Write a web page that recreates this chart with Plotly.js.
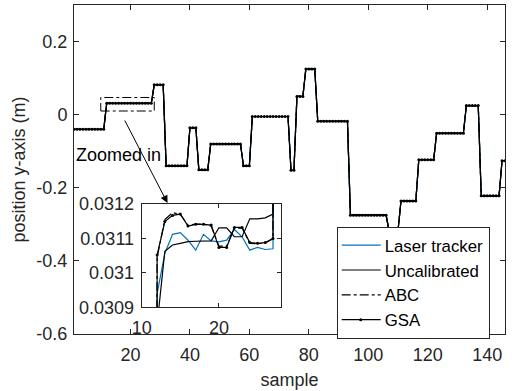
<!DOCTYPE html>
<html>
<head>
<meta charset="utf-8">
<script src="https://cdn.plot.ly/plotly-3.0.1.min.js"></script>
<style>html,body{margin:0;padding:0;background:#fff;}#chart{width:512px;height:391px;}</style>
</head>
<body>
<div id="chart"></div>
<script>
// sample index 1..146
const sample = [];
for (let i = 1; i <= 146; i++) sample.push(i);

// main trajectory (position y-axis, m), samples 1..146
const mainPath = [
  -0.04,-0.04,-0.04,-0.04,-0.04,-0.04,-0.04,-0.04,-0.04,-0.04,-0.04,
  0.031,0.031,0.031,0.031,0.031,0.031,0.031,0.031,0.031,0.031,0.031,0.031,0.031,0.031,0.031,0.031,
  0.082,0.082,0.082,0.082,
  -0.14,-0.14,-0.14,-0.14,-0.14,-0.14,-0.14,-0.14,
  -0.036,-0.036,-0.036,
  -0.151,-0.151,-0.151,-0.151,
  -0.08,-0.08,-0.08,-0.08,-0.08,-0.08,-0.08,-0.08,-0.08,-0.08,-0.08,
  -0.14,-0.14,-0.14,
  -0.005,-0.005,-0.005,-0.005,-0.005,-0.005,-0.005,-0.005,-0.005,-0.005,-0.005,-0.005,-0.005,
  -0.152,-0.152,
  0.05,0.05,0.05,
  0.125,0.125,0.125,0.125,
  -0.018,-0.018,-0.018,-0.018,-0.018,-0.018,-0.018,-0.018,-0.018,-0.018,-0.018,
  -0.275,-0.275,-0.275,-0.275,-0.275,-0.275,-0.275,-0.275,-0.275,-0.275,-0.275,-0.275,-0.275,
  -0.318,-0.318,-0.318,-0.318,
  -0.236,-0.236,-0.236,-0.236,-0.236,-0.236,
  -0.123,-0.123,-0.123,-0.123,-0.123,-0.123,
  -0.051,-0.051,-0.051,-0.051,-0.051,-0.051,-0.051,-0.051,-0.051,-0.051,
  0.025,0.025,0.025,0.025,0.025,
  -0.222,-0.222,-0.222,-0.222,-0.222,-0.222,-0.222,
  -0.126,-0.126
];

// zoomed window (samples 12..27), values per method
const insetSamples = [12,13,14,15,16,17,18,19,20,21,22,23,24,25,26,27];
const laserInset = [0.03094,0.031057,0.031112,0.031117,0.031095,0.031066,0.031112,0.031093,0.03109,0.031095,0.031126,0.031105,0.031066,0.031074,0.031068,0.03107];
const uncalInset = [0.03085,0.031063,0.031081,0.031086,0.031091,0.031092,0.031093,0.031093,0.031131,0.031131,0.031105,0.031105,0.031157,0.031157,0.03116,0.031171];
const abcInset   = [0.031045,0.031155,0.031175,0.03117,0.031138,0.031142,0.031142,0.031136,0.031078,0.031078,0.03113,0.03113,0.031086,0.031085,0.031087,0.031099];
const gsaInset   = [0.031052,0.031149,0.031167,0.031171,0.031136,0.031141,0.031141,0.031139,0.031074,0.031074,0.031132,0.031132,0.031088,0.031086,0.031088,0.0311];

const seriesNames = ['Laser tracker','Uncalibrated','ABC','GSA'];
const yTickVals = [-0.6,-0.4,-0.2,0,0.2];
const yTickText = ['-0.6','-0.4','-0.2','0','0.2'];
const xTickVals = [20,40,60,80,100,120,140];
const insetYTickVals = [0.0309,0.031,0.0311,0.0312];
const insetYTickText = ['0.0309','0.031','0.0311','0.0312'];
const insetXTickVals = [10,20];

function withInset(inset) {
  const s = mainPath.slice();
  insetSamples.forEach((x, i) => { s[x - 1] = inset[i]; });
  return s;
}

const styles = [
  {line:{color:'#0072BD', width:1.2}, mode:'lines'},
  {line:{color:'#000000', width:1.2}, mode:'lines'},
  {line:{color:'#000000', width:1.2, dash:'dashdot'}, mode:'lines'},
  {line:{color:'#000000', width:1.2}, mode:'lines+markers', marker:{color:'#000000', size:3}}
];
const data = [laserInset, uncalInset, abcInset, gsaInset].map(withInset);

const traces = [];
data.forEach((y, i) => {
  traces.push(Object.assign({x: sample, y: y, name: seriesNames[i], type:'scatter', xaxis:'x', yaxis:'y', showlegend:true}, styles[i]));
});
data.forEach((y, i) => {
  traces.push(Object.assign({x: sample, y: y, name: seriesNames[i], type:'scatter', xaxis:'x2', yaxis:'y2', showlegend:false}, styles[i]));
});

const FONT = 'Liberation Sans, Arial, sans-serif';
const AX = '#262626';

const layout = {
  width: 512, height: 391,
  margin: {l:74, r:7, t:5, b:57},
  paper_bgcolor:'#ffffff', plot_bgcolor:'#ffffff',
  font: {family: FONT, size: 18, color: AX},
  showlegend: true,
  xaxis: {
    domain:[0,1], range:[1,146], tickvals:xTickVals, ticks:'inside', ticklen:5, tickcolor:AX,
    ticklabelstandoff:4,
    showline:true, linecolor:AX, linewidth:1, mirror:'ticks', showgrid:false, zeroline:false,
    title:{text:'sample', font:{size:18}, standoff:9}
  },
  yaxis: {
    domain:[0,1], range:[-0.6,0.3], tickvals:yTickVals, ticktext:yTickText, ticks:'inside', ticklen:5, tickcolor:AX,
    ticklabelstandoff:2,
    showline:true, linecolor:AX, linewidth:1, mirror:'ticks', showgrid:false, zeroline:false,
    title:{text:'position y-axis (m)', font:{size:18}, standoff:6}
  },
  xaxis2: {
    domain:[0.157,0.4796], anchor:'y2', range:[10,28], tickvals:insetXTickVals, ticks:'inside', ticklen:4, tickcolor:AX,
    ticklabelstandoff:4,
    showline:true, linecolor:AX, linewidth:1, mirror:'ticks', showgrid:false, zeroline:false
  },
  yaxis2: {
    domain:[0.081,0.395], anchor:'x2', range:[0.0309,0.0312], tickvals:insetYTickVals, ticktext:insetYTickText, ticks:'inside', ticklen:4, tickcolor:AX,
    ticklabelstandoff:3,
    showline:true, linecolor:AX, linewidth:1, mirror:'ticks', showgrid:false, zeroline:false
  },
  legend: {
    x:0.6095, y:0.326, xanchor:'left', yanchor:'top', bgcolor:'#ffffff',
    bordercolor:AX, borderwidth:1, font:{size:16.8, family:FONT, color:'#000'}, tracegroupgap:0,
    itemwidth:37
  },
  shapes: [
    {type:'rect', xref:'x', yref:'y', x0:10, x1:28, y0:0.01, y1:0.047, line:{color:'#000', width:1, dash:'dashdot'}}
  ],
  annotations: [
    {xref:'paper', yref:'paper', x:0.217, y:0.398, ax:-43.5, ay:-84, axref:'pixel', ayref:'pixel',
     text:'', showarrow:true, arrowhead:2, arrowsize:1.5, arrowwidth:1, arrowcolor:'#000'},
    {xref:'paper', yref:'paper', x:0.0, y:0.545, xanchor:'left', yanchor:'middle', text:'Zoomed in',
     showarrow:false, font:{size:18, family:FONT, color:'#000'}}
  ]
};

Plotly.newPlot('chart', traces, layout, {displayModeBar:false, staticPlot:true}).then(function (gd) {
  // lengthen legend line samples to match the reference legend
  gd.querySelectorAll('.legend .legendlines path').forEach(function (p) {
    p.setAttribute('d', 'M4,0h39');
  });
  gd.querySelectorAll('.legend .legendpoints path').forEach(function (p) {
    p.setAttribute('transform', 'translate(23,0)');
  });
});
</script>
</body>
</html>
